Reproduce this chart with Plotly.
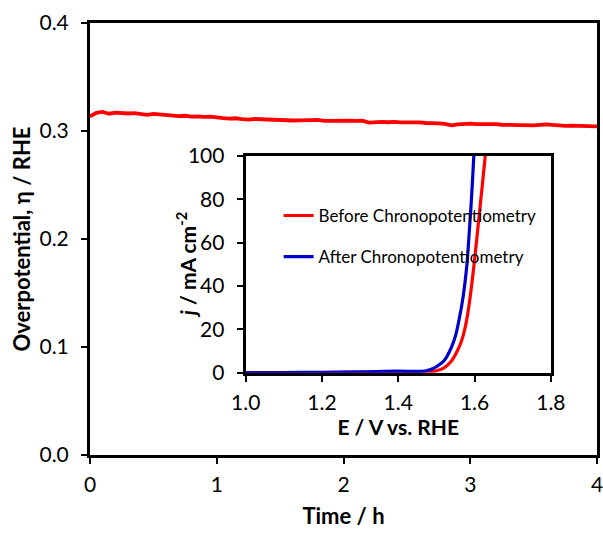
import plotly.graph_objects as go

# ---- main chronopotentiometry data ----
time_h = [0.00, 0.05, 0.10, 0.15, 0.20, 0.25, 0.30, 0.35, 0.40, 0.45,
          0.50, 0.55, 0.60, 0.65, 0.70, 0.75, 0.80, 0.85, 0.90, 0.95,
          1.00, 1.05, 1.10, 1.15, 1.20, 1.25, 1.30, 1.35, 1.40, 1.45,
          1.50, 1.55, 1.60, 1.65, 1.70, 1.75, 1.80, 1.85, 1.90, 1.95,
          2.00, 2.05, 2.10, 2.15, 2.20, 2.25, 2.30, 2.35, 2.40, 2.45,
          2.50, 2.55, 2.60, 2.65, 2.70, 2.75, 2.80, 2.85, 2.90, 2.95,
          3.00, 3.05, 3.10, 3.15, 3.20, 3.25, 3.30, 3.35, 3.40, 3.45,
          3.50, 3.55, 3.60, 3.65, 3.70, 3.75, 3.80, 3.85, 3.90, 3.95, 4.00]
overpotential = [0.3135, 0.3168, 0.3176, 0.3160, 0.3170, 0.3165, 0.3162, 0.3166, 0.3158, 0.3150,
                 0.3158, 0.3154, 0.3143, 0.3146, 0.3138, 0.3141, 0.3133, 0.3136, 0.3130, 0.3133,
                 0.3122, 0.3120, 0.3115, 0.3118, 0.3110, 0.3106, 0.3111, 0.3108, 0.3104, 0.3107,
                 0.3103, 0.3100, 0.3097, 0.3099, 0.3101, 0.3098, 0.3102, 0.3094, 0.3096, 0.3092,
                 0.3094, 0.3096, 0.3093, 0.3096, 0.3078, 0.3082, 0.3084, 0.3081, 0.3085, 0.3080,
                 0.3082, 0.3077, 0.3080, 0.3074, 0.3076, 0.3070, 0.3066, 0.3052, 0.3062, 0.3066,
                 0.3068, 0.3064, 0.3066, 0.3061, 0.3063, 0.3058, 0.3056, 0.3058, 0.3054, 0.3056,
                 0.3052, 0.3057, 0.3062, 0.3056, 0.3050, 0.3047, 0.3050, 0.3046, 0.3048, 0.3044, 0.3042]

# ---- inset LSV data ----
E_before = [1.00, 1.10, 1.20, 1.30, 1.40, 1.45, 1.48, 1.50, 1.52, 1.54, 1.56, 1.57,
            1.58, 1.59, 1.60, 1.61, 1.62, 1.628, 1.632]
j_before = [0.0, 0.0, 0.1, 0.2, 0.3, 0.4, 0.5, 0.9, 2.2, 5.5, 12, 17,
            25, 37, 52, 69, 86, 100, 108]
E_after = [1.00, 1.10, 1.20, 1.30, 1.40, 1.45, 1.47, 1.49, 1.50, 1.52, 1.54, 1.55,
           1.56, 1.57, 1.58, 1.585, 1.59, 1.595, 1.598, 1.601]
j_after = [0.1, 0.1, 0.2, 0.4, 0.7, 0.6, 0.8, 1.8, 2.8, 5.5, 12, 17,
           25, 35, 50, 62, 75, 90, 100, 108]

main_x_ticks = [0, 1, 2, 3, 4]
main_y_ticks = [0.0, 0.1, 0.2, 0.3, 0.4]
inset_x_ticks = [1.0, 1.2, 1.4, 1.6, 1.8]
inset_y_ticks = [0, 20, 40, 60, 80, 100]

FONT = "Lato"
INSET_X_DOMAIN = [0.307, 0.909]
INSET_Y_DOMAIN = [0.1905, 0.692]

fig = go.Figure()
fig.add_trace(go.Scatter(x=time_h, y=overpotential, mode="lines",
                         line=dict(color="#ff0000", width=3.8),
                         showlegend=False, xaxis="x", yaxis="y"))
fig.add_trace(go.Scatter(x=E_before, y=j_before, mode="lines",
                         line=dict(color="#ff0000", width=3.2, shape="spline"),
                         name="Before Chronopotentiometry", legendgroup="a",
                         xaxis="x2", yaxis="y2"))
fig.add_trace(go.Scatter(x=E_after, y=j_after, mode="lines",
                         line=dict(color="#0000cc", width=3.2, shape="spline"),
                         name="After Chronopotentiometry", legendgroup="b",
                         xaxis="x2", yaxis="y2"))

axis_common = dict(showline=True, linecolor="black", linewidth=3, mirror=True,
                   ticks="outside", ticklen=6, tickwidth=2, tickcolor="black",
                   showgrid=False, zeroline=False, automargin=False,
                   ticklabeloverflow="allow",
                   tickfont=dict(family=FONT, size=21, color="black"))

fig.update_layout(
    width=603, height=533,
    margin=dict(l=90, r=6, t=23, b=78),
    paper_bgcolor="white", plot_bgcolor="white",
    font=dict(family=FONT, color="black"),
    xaxis=dict(range=[0, 4], tickvals=main_x_ticks, tickformat="d",
               title=dict(text="<b>Time / h</b>", font=dict(family=FONT, size=22), standoff=14),
               domain=[0, 1], anchor="y", ticklabelstandoff=3, **axis_common),
    yaxis=dict(range=[0, 0.4], tickvals=main_y_ticks, tickformat=".1f",
               title=dict(text="<b>Overpotential, η / RHE</b>", font=dict(family=FONT, size=22), standoff=3),
               domain=[0, 1], anchor="x", ticklabelstandoff=8, **axis_common),
    xaxis2=dict(range=[1.0, 1.8], tickvals=inset_x_ticks, tickformat=".1f",
                title=dict(text="<b>E / V vs. RHE</b>", font=dict(family=FONT, size=21), standoff=4),
                domain=INSET_X_DOMAIN, anchor="y2", ticklabelstandoff=3, **axis_common),
    yaxis2=dict(range=[0, 100], tickvals=inset_y_ticks, tickformat="d",
                domain=INSET_Y_DOMAIN, anchor="x2", ticklabelstandoff=8, **axis_common),
    legend=dict(x=0.372, y=0.595, xanchor="left", yanchor="top",
                bgcolor="rgba(0,0,0,0)", font=dict(family=FONT, size=17, color="black"),
                tracegroupgap=16),
    annotations=[dict(text="<b><i>j</i> / mA cm<sup>-2</sup></b>", textangle=-90,
                      xref="paper", yref="paper", x=0.191,
                      y=(INSET_Y_DOMAIN[0] + INSET_Y_DOMAIN[1]) / 2,
                      xanchor="center", yanchor="middle", showarrow=False,
                      font=dict(family=FONT, size=21, color="black"))],
)

fig.write_html("out.html")
